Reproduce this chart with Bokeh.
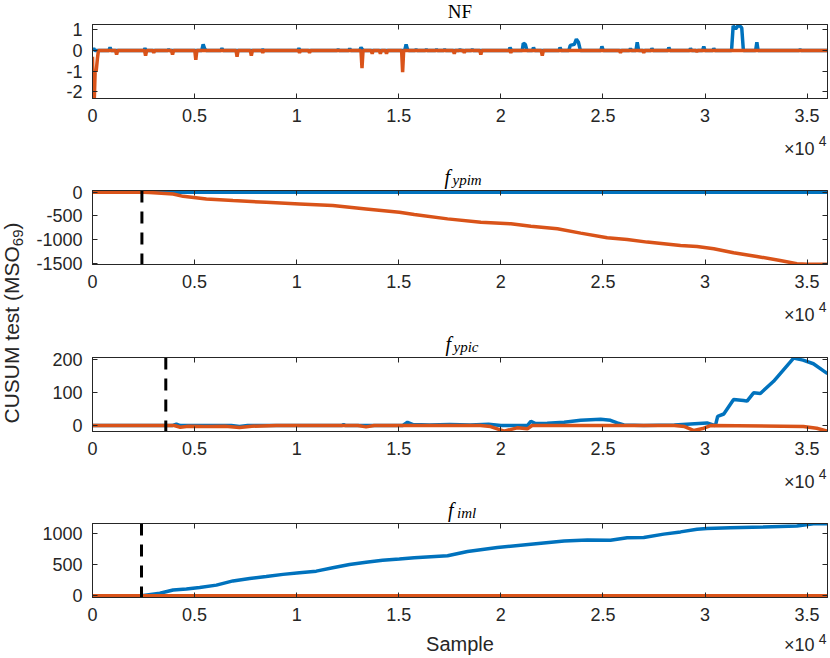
import math
from bokeh.plotting import figure
from bokeh.layouts import column, row
from bokeh.models import Range1d, FixedTicker, LinearAxis, Label
from bokeh.embed import file_html
from bokeh.resources import INLINE

# ---------------- data ----------------
x_limits = [0, 36000]
x_ticks = [0, 5000, 10000, 15000, 20000, 25000, 30000, 35000]
x_tick_labels = ["0", "0.5", "1", "1.5", "2", "2.5", "3", "3.5"]
x_exponent = ["\u00d710", "4"]
y_label_parts = ["CUSUM test (MSO", "69", ")"]
x_label_text = "Sample"
titles = [("NF", None), ("f", "ypim"), ("f", "ypic"), ("f", "iml")]

# Panel 1: NF
nf_ylim = [-2.32, 1.26]
nf_yticks = [-2, -1, 0, 1]
nf_yticklabels = ["-2", "-1", "0", "1"]
nf_blue_x = [0, 60, 120, 800, 860, 920, 2510, 2570, 2630, 3680, 3730, 3780,
             5350, 5420, 5490, 5560, 6280, 6340, 6400, 8280, 8340, 8400,
             10050, 10110, 10170, 11980, 12030, 12080, 12550, 12600, 12650,
             13090, 13150, 13220, 13290, 15290, 15360, 15430, 15500,
             15800, 15850, 15900, 16300, 16350, 16400, 16800, 16850, 16900,
             17200, 17250, 17300, 17950, 18000, 18050, 18550, 18600, 18650,
             20400, 20450, 20520, 21050, 21100, 21200, 21280, 21550, 21600, 21660,
             22850, 22900, 22960, 23330, 23400, 23600, 23700, 23800, 23900,
             24900, 24950, 25020, 26300, 26350, 26400, 26620, 26680, 26750,
             27350, 27400, 27460, 28180, 28230, 28290, 29240, 29290, 29350,
             29880, 29940, 30000, 30380, 30430, 30490,
             31300, 31380, 31500, 31650, 31800, 31880, 32480, 32540, 32600,
             34610, 34660, 34720, 36000]
nf_blue_y = [0, 0.1, 0, 0, 0.15, 0, 0, 0.1, 0, 0, 0.05, 0,
             0, 0.3, 0.1, 0, 0, 0.1, 0, 0, 0.05, 0,
             0, 0.1, 0, 0, 0.05, 0, 0, 0.1, 0,
             0, 0.15, 0.05, 0, 0, 0.3, 0.05, 0,
             0, 0.05, 0, 0, 0.05, 0, 0, 0.05, 0,
             0, 0.05, 0, 0, 0.05, 0, 0, 0.05, 0,
             0, 0.15, 0, 0, 0.35, 0.3, 0, 0, 0.15, 0,
             0, 0.15, 0, 0, 0.25, 0.3, 0.55, 0.4, 0,
             0, 0.2, 0, 0, 0.1, 0, 0, 0.4, 0,
             0, 0.1, 0, 0, 0.15, 0, 0, 0.1, 0,
             0, 0.2, 0, 0, 0.1, 0,
             0, 1.2, 1.05, 1.24, 1.1, 0, 0, 0.4, 0,
             0, 0.05, 0, 0]
nf_orange_x = [0, 40, 90, 130, 180, 240, 290, 1130, 1180, 1230, 2550, 2600, 2650,
               2950, 3000, 3050, 3870, 3920, 3970, 5010, 5060, 5110,
               7030, 7080, 7130, 7730, 7780, 7830, 8290, 8340, 8390,
               10090, 10140, 10190, 10580, 10630, 10680, 13150, 13200, 13250,
               13650, 13700, 13750, 14050, 14100, 14150, 14350, 14400, 14450,
               15140, 15190, 15240, 17670, 17720, 17770, 18160, 18210, 18260,
               18970, 19020, 19070, 20440, 20490, 20540, 21980, 22030, 22080,
               25810, 25860, 25910, 26950, 27000, 27050, 29550, 29600, 29650, 36000]
nf_orange_y = [-0.3, -2.3, -2.3, -1.0, -1.0, -0.4, 0, 0, -0.2, 0, 0, -0.25, 0,
               0, -0.1, 0, 0, -0.2, 0, 0, -0.45, 0,
               0, -0.3, 0, 0, -0.25, 0, 0, -0.1, 0,
               0, -0.1, 0, 0, -0.1, 0, 0, -0.85, 0,
               0, -0.15, 0, 0, -0.15, 0, 0, -0.15, 0,
               0, -1.05, 0, 0, -0.15, 0, 0, -0.1, 0,
               0, -0.2, 0, 0, -0.1, 0, 0, -0.25, 0,
               0, -0.1, 0, 0, -0.1, 0, 0, -0.05, 0, 0]

# Panel 2: f_ypim
ypim_ylim = [-1525, 35]
ypim_yticks = [-1500, -1000, -500, 0]
ypim_yticklabels = ["-1500", "-1000", "-500", "0"]
ypim_blue_x = [0, 36000]
ypim_blue_y = [0, 0]
ypim_orange_x = [0, 2500, 2800, 3950, 4440, 5580, 6880, 8510, 10140, 11770, 13400,
                 15030, 15760, 17390, 19020, 20490, 21470, 22770, 23910, 25210,
                 26190, 27170, 28800, 29610, 30430, 31400, 32540, 33680, 34500,
                 35000, 36000]
ypim_orange_y = [0, 0, -5, -38, -88, -143, -178, -213, -248, -283, -353,
                 -423, -470, -563, -633, -668, -718, -773, -864, -962,
                 -997, -1053, -1123, -1144, -1193, -1277, -1355, -1439, -1509,
                 -1518, -1522]
ypim_fault = 2420

# Panel 3: f_ypic
ypic_ylim = [-18, 206]
ypic_yticks = [0, 100, 200]
ypic_yticklabels = ["0", "100", "200"]
ypic_blue_x = [0, 3900, 4110, 4300, 6800, 7200, 7600, 12200, 12300, 12400, 15200,
               15430, 15700, 16500, 17500, 18500, 19400, 20000, 21300, 21470,
               21700, 22270, 23100, 23910, 24890, 25370, 25700, 26030, 27000,
               28500, 30100, 30510, 30620, 30920, 31400, 31890, 32060, 32380,
               32710, 33360, 34340, 34800, 35310, 36000]
ypic_blue_y = [0, 0, 4, 0, 0, -3, 0, 0, 3, 0, 0,
               10, 3, 2, 3, 2, 4, 0, 0, 13,
               6, 7, 10, 16, 19, 16, 8, 2, 0,
               2, 8, 0, 28, 35, 79, 76, 74, 99,
               97, 134, 204, 198, 187, 157]
ypic_orange_x = [0, 4000, 4300, 4700, 5500, 6500, 7200, 7800, 9000, 13000, 13400,
                 13800, 19000, 19500, 20160, 20800, 21300, 21530, 28500, 29000,
                 29460, 29940, 30270, 34820, 35470, 36000]
ypic_orange_y = [0, 0, -5, -2, -3, -2, -6, -2, 0, 0, -4,
                 0, 0, -3, -17, -7, -10, 0, 0, -3,
                 -15, -8, 0, -3, -8, -17]
ypic_fault = 3590

# Panel 4: f_iml
iml_ylim = [-30, 1160]
iml_yticks = [0, 500, 1000]
iml_yticklabels = ["0", "500", "1000"]
iml_blue_x = [0, 2400, 3300, 3950, 4600, 5250, 6070, 6880, 7700, 8510, 9330, 10140,
              10960, 11770, 12590, 13400, 14210, 15030, 15760, 17390, 18370, 19830,
              21470, 23100, 24240, 25370, 26190, 27000, 27980, 28800, 29610, 30100,
              31240, 32870, 34500, 35310, 36000]
iml_blue_y = [0, 0, 38, 90, 105, 132, 169, 237, 274, 306, 342, 369,
              394, 448, 500, 536, 568, 590, 610, 642, 710, 773,
              826, 878, 894, 889, 931, 936, 989, 1025, 1068, 1079,
              1090, 1104, 1120, 1157, 1157]
iml_orange_x = [0, 36000]
iml_orange_y = [0, 0]
iml_fault = 2400

# ---------------- style / layout ----------------
BLUE = "#0072BD"
ORANGE = "#D95319"
AX = "#262626"
FONT = "Liberation Sans"
SERIF = "Liberation Serif"
LW = 3.5

W, H = 828, 656
BL, BR = 92, 1
FW = W - BL - BR
FCX = BL + FW / 2
FR = BL + FW
FH = 74
PANEL_H = [164, 166, 167, 159]
TOP_B = [24, 26, 27, 26]
# horizontal placement of title pieces relative to frame centre: (f, subscript)
TITLE_DX = [None, (-15.5, -7.5), (-14.5, -6.5), (-12, -3)]
YL_W = 30
BASE_FIX = 0.35      # observed baseline drop of Label text, in em


def style_axis(ax, ticks, labels=None):
    ax.ticker = FixedTicker(ticks=ticks)
    ax.major_tick_in = 5
    ax.major_tick_out = 0
    ax.minor_tick_line_color = None
    ax.axis_line_color = AX
    ax.major_tick_line_color = AX
    ax.axis_line_width = 1
    ax.major_tick_line_width = 1
    if labels is not None:
        ax.major_label_overrides = {t: s for t, s in zip(ticks, labels)}
        ax.major_label_text_font = FONT
        ax.major_label_text_font_size = "18px"
        ax.major_label_text_color = AX
        ax.major_label_standoff = 10
    else:
        ax.major_label_overrides = {t: "" for t in ticks}
        ax.major_label_text_font_size = "0px"
        ax.major_label_standoff = 0


def panel(bx, by, ox, oy, ylim, yticks, yticklabels, k, fault=None):
    height = PANEL_H[k]
    p = figure(width=W, height=height,
               x_range=Range1d(x_limits[0], x_limits[1]),
               y_range=Range1d(ylim[0], ylim[1]),
               toolbar_location=None, output_backend="svg",
               min_border_left=BL, min_border_right=BR,
               min_border_top=TOP_B[k], min_border_bottom=height - TOP_B[k] - FH)
    p.grid.visible = False
    p.background_fill_color = "white"
    p.border_fill_alpha = 0
    p.outline_line_color = AX
    p.outline_line_width = 1
    style_axis(p.below[0], x_ticks, x_tick_labels)
    style_axis(p.left[0], yticks, yticklabels)
    top = LinearAxis()
    style_axis(top, x_ticks)
    p.add_layout(top, "above")
    right = LinearAxis()
    style_axis(right, yticks)
    p.add_layout(right, "right")

    p.line(bx, by, line_color=BLUE, line_width=LW)
    p.line(ox, oy, line_color=ORANGE, line_width=LW)
    if fault is not None:
        p.line([fault, fault], [ylim[1], ylim[0]], line_color="black",
               line_width=3, line_dash="12 9")
    return p


p1 = panel(nf_blue_x, nf_blue_y, nf_orange_x, nf_orange_y, nf_ylim, nf_yticks,
           nf_yticklabels, 0)
p2 = panel(ypim_blue_x, ypim_blue_y, ypim_orange_x, ypim_orange_y, ypim_ylim,
           ypim_yticks, ypim_yticklabels, 1, fault=ypim_fault)
p3 = panel(ypic_blue_x, ypic_blue_y, ypic_orange_x, ypic_orange_y, ypic_ylim,
           ypic_yticks, ypic_yticklabels, 2, fault=ypic_fault)
p4 = panel(iml_blue_x, iml_blue_y, iml_orange_x, iml_orange_y, iml_ylim,
           iml_yticks, iml_yticklabels, 3, fault=iml_fault)


def overlay(width, xr, margin, **borders):
    o = figure(width=width, height=H, x_range=Range1d(*xr), y_range=Range1d(H, 0),
               toolbar_location=None, output_backend="svg",
               x_axis_location=None, y_axis_location=None, margin=margin, **borders)
    o.grid.visible = False
    o.outline_line_color = None
    o.background_fill_alpha = 0
    o.border_fill_alpha = 0
    return o


def lab(o, x, y, text, size, font=FONT, style="normal", align="left", color=AX,
        rotated=False):
    fix = BASE_FIX * size
    if rotated:
        x, angle = x - fix, math.pi / 2
    else:
        y, angle = y - fix, 0
    o.add_layout(Label(x=x, y=y, text=text, text_font=font,
                       text_font_size="%gpx" % size,
                       text_font_style=style, text_align=align,
                       text_baseline="alphabetic", text_color=color, angle=angle))


# text overlay on top of the panels; its frame is aligned with the panel frames,
# so its data coordinates are the page's pixel coordinates
ov = overlay(W, (BL, FR), (-H, 0, 0, 0), min_border_left=BL, min_border_right=BR,
             min_border_top=0, min_border_bottom=0)

y0 = 0
for k in range(4):
    ftop = y0 + TOP_B[k]
    fbot = ftop + FH
    main, sub = titles[k]
    if sub is None:
        lab(ov, FCX, ftop - 6, main, 19, font=SERIF, align="center", color="black")
    else:
        dxf, dxs = TITLE_DX[k]
        lab(ov, FCX + dxf, ftop - 7, main, 20, font=SERIF, style="italic",
            color="black")
        lab(ov, FCX + dxs, ftop - 5, sub, 15, font=SERIF, style="italic",
            color="black")
    lab(ov, FR - 13, min(fbot + 57, H - 5), x_exponent[0], 18, align="right")
    lab(ov, FR - 1, min(fbot + 47, H - 13), x_exponent[1], 14, align="right")
    if k == 3:
        lab(ov, FCX, H - 6, x_label_text, 20, align="center")
    y0 += PANEL_H[k]

# rotated y label strip, sitting behind the left border of the panels
yl = overlay(YL_W, (0, YL_W), (0, -YL_W, 0, 0), min_border=0)
lab(yl, 18, 423, y_label_parts[0], 21, rotated=True)
lab(yl, 23, 423 - 8.445 * 21, y_label_parts[1], 15, rotated=True)
lab(yl, 18, 423 - 8.445 * 21 - 1.112 * 15, y_label_parts[2], 21, rotated=True)

layout = row(yl, column(p1, p2, p3, p4, ov))

with open("out.html", "w") as f:
    f.write(file_html(layout, INLINE))
